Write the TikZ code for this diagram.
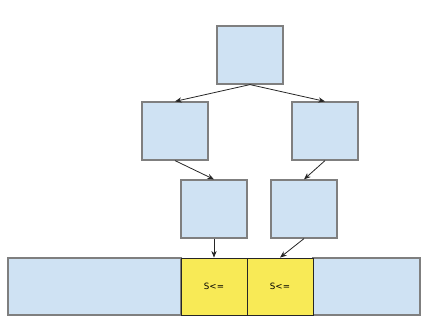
\documentclass[tikz,border=0pt]{standalone}
\usepackage{fontspec}
\setmainfont{DejaVu Sans}
\usetikzlibrary{arrows.meta}

\definecolor{boxblue}{HTML}{CFE2F3}
\definecolor{cellyellow}{HTML}{F8EA56}
\definecolor{edgegray}{HTML}{7F7F7F}

\begin{document}
\begin{tikzpicture}[x=0.75pt,y=-0.75pt,>={Stealth[length=5pt,width=4pt]},
  block/.style={draw=edgegray,fill=boxblue,line width=0.9pt,inner sep=0pt,
    minimum width=49.5pt,minimum height=43.5pt},
  stripcell/.style={draw=edgegray,fill=boxblue,line width=0.9pt,inner sep=0pt,
    minimum height=42.75pt},
  sumcell/.style={draw=black!85,fill=cellyellow,line width=0.6pt,inner sep=0pt,
    minimum width=49.5pt,minimum height=42.75pt,font=\fontsize{6.5}{7}\selectfont}]
  \useasboundingbox (0,0) rectangle (429,325);
  % tree
  \node[block] (root) at (250,55) {};
  \node[block] (left) at (175,131) {};
  \node[block] (right) at (325,131) {};
  \node[block] (lleaf) at (214,209) {};
  \node[block] (rleaf) at (304,209) {};
  % bottom strip
  \node[stripcell,minimum width=129.75pt] (head) at (94.5,286.5) {};
  \node[stripcell,minimum width=80.25pt] (tail) at (366.5,286.5) {};
  \node[sumcell] (sa) at (214,286.5) {S<=};
  \node[sumcell] (sb) at (280,286.5) {S<=};
  \draw[->,black!85,line width=0.6pt] (root.south) -- (left.north);
  \draw[->,black!85,line width=0.6pt] (root.south) -- (right.north);
  \draw[->,black!85,line width=0.6pt] (left.south) -- (lleaf.north);
  \draw[->,black!85,line width=0.6pt] (right.south) -- (rleaf.north);
  \draw[->,black!85,line width=0.6pt] (lleaf.south) -- (sa.north);
  \draw[->,black!85,line width=0.6pt] (rleaf.south) -- (sb.north);
\end{tikzpicture}
\end{document}
